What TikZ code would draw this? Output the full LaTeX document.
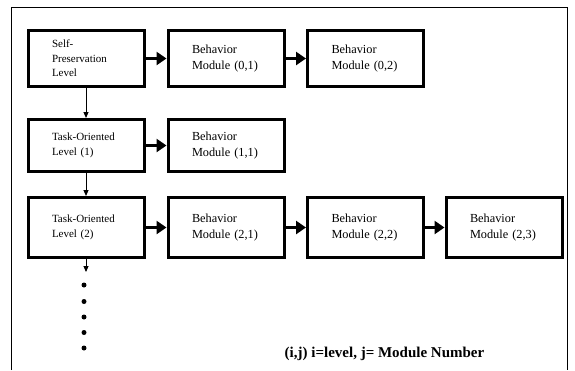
\documentclass[tikz,border=0pt]{standalone}
\usepackage{fontspec}
\setmainfont{Liberation Serif}
\usetikzlibrary{arrows.meta}
\tikzset{
  box/.style={draw, line width=3pt, inner ysep=0pt, inner xsep=24pt, text width=68pt, align=left, minimum width=116pt},
  lvl/.style={box, font=\fontsize{11}{14.5}\selectfont},
  beh/.style={box, font=\fontsize{12.3}{16.5}\selectfont},
  thickarrow/.style={line width=3.5pt, -{Triangle[length=10pt,width=13pt]}},
  thinarrow/.style={line width=1pt, -{Triangle[length=6pt,width=5pt]}},
  dotmark/.style={circle, fill, inner sep=0pt, minimum size=5pt},
  frameline/.style={line width=1pt}
}
\begin{document}
\begin{tikzpicture}[x=1pt,y=-1pt]
\useasboundingbox (0,0) rectangle (575,370);
\draw[frameline] (11,370) -- (11,7) -- (567,7) -- (567,370);

\node[lvl, minimum height=56pt] (L0) at (86,58.5) {Self-\\Preservation\\Level};
\node[beh, minimum height=56pt] (B01) at (226,58.5) {Behavior\\Module (0,1)};
\node[beh, minimum height=56pt] (B02) at (365.5,58.5) {Behavior\\Module (0,2)};

\node[lvl, minimum height=52pt] (L1) at (86,145.5) {Task-Oriented\\Level (1)};
\node[beh, minimum height=52pt] (B11) at (226,145.5) {Behavior\\Module (1,1)};

\node[lvl, minimum height=60pt] (L2) at (86,227.5) {Task-Oriented\\Level (2)};
\node[beh, minimum height=60pt] (B21) at (226,227.5) {Behavior\\Module (2,1)};
\node[beh, minimum height=60pt] (B22) at (365.5,227.5) {Behavior\\Module (2,2)};
\node[beh, minimum height=60pt] (B23) at (504,227.5) {Behavior\\Module (2,3)};

\draw[thickarrow] (L0) -- (B01);
\draw[thickarrow] (B01) -- (B02);
\draw[thickarrow] (L1) -- (B11);
\draw[thickarrow] (L2) -- (B21);
\draw[thickarrow] (B21) -- (B22);
\draw[thickarrow] (B22) -- (B23);

\coordinate (d0) at (86,272);
\draw[thinarrow] (L0) -- (L1);
\draw[thinarrow] (L1) -- (L2);
\draw[thinarrow] (L2) -- (d0);

\node[dotmark] (p1) at (84,285) {};
\node[dotmark] (p2) at (84,301.5) {};
\node[dotmark] (p3) at (84,317) {};
\node[dotmark] (p4) at (84,332.5) {};
\node[dotmark] (p5) at (84,348) {};

\node[font=\fontsize{15}{18}\selectfont\bfseries, inner sep=0pt] (lab) at (384.5,354) {(i,j) i=level, j= Module Number};
\end{tikzpicture}
\end{document}
